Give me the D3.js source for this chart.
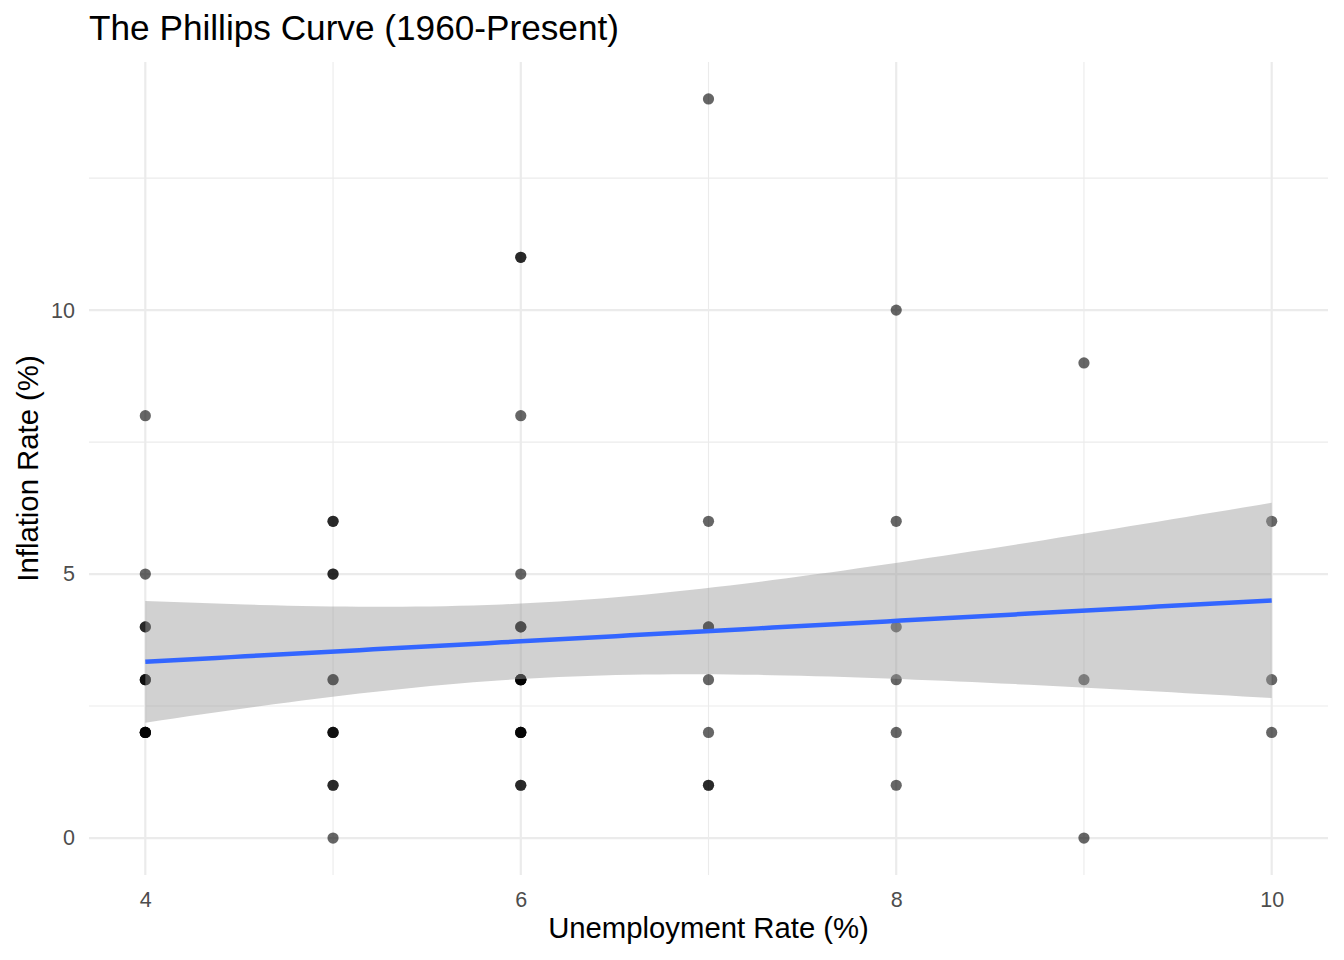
<!DOCTYPE html>
<html lang="en">
<head>
<meta charset="UTF-8">
<title>The Phillips Curve (1960-Present)</title>
<script src="https://d3js.org/d3.v7.min.js"></script>
<style>
  body { margin: 0; background: #fff; }
  svg text { font-family: "Liberation Sans", Arial, sans-serif; }
</style>
</head>
<body>
<svg width="1344" height="960"></svg>
<script>
// rounded annual unemployment / inflation pairs (overlapping points repeat)
const unemployment = [
  4, 4, 4, 4, 4, 4, 4, 4, 4, 4, 4, 4,
  5, 5, 5, 5, 5, 5, 5, 5, 5, 5, 5, 5,
  6, 6, 6, 6, 6, 6, 6, 6, 6, 6, 6, 6, 6, 6, 6, 6, 6, 6,
  7, 7, 7, 7, 7, 7, 7, 7,
  8, 8, 8, 8, 8, 8,
  9, 9, 9,
  10, 10, 10
];
const inflation = [
  8, 5, 4, 4, 3, 3, 3, 2, 2, 2, 2, 2,
  6, 6, 5, 5, 3, 3, 2, 2, 2, 1, 1, 0,
  11, 11, 8, 5, 4, 4, 4, 3, 3, 3, 3, 3, 2, 2, 2, 2, 1, 1,
  14, 6, 4, 4, 3, 2, 1, 1,
  10, 6, 4, 3, 2, 1,
  9, 3, 0,
  6, 3, 2
];
const xTicks = [4, 6, 8, 10];
const yTicks = [0, 5, 10];

const svg = d3.select("svg");
const margin = { top: 62, right: 16, bottom: 85, left: 89 };
const width = 1344, height = 960;

const x = d3.scaleLinear().domain([3.7, 10.3]).range([margin.left, width - margin.right]);
const y = d3.scaleLinear().domain([-0.7, 14.7]).range([height - margin.bottom, margin.top]);

// grid: minor then major
const grid = svg.append("g");
const xMinor = [5, 7, 9], yMinor = [2.5, 7.5, 12.5];
grid.selectAll(".xm").data(xMinor).enter().append("line")
  .attr("x1", d => x(d)).attr("x2", d => x(d))
  .attr("y1", y.range()[0]).attr("y2", y.range()[1])
  .attr("stroke", "#ebebeb").attr("stroke-width", 1.1);
grid.selectAll(".ym").data(yMinor).enter().append("line")
  .attr("y1", d => y(d)).attr("y2", d => y(d))
  .attr("x1", x.range()[0]).attr("x2", x.range()[1])
  .attr("stroke", "#ebebeb").attr("stroke-width", 1.1);
grid.selectAll(".xM").data(xTicks).enter().append("line")
  .attr("x1", d => x(d)).attr("x2", d => x(d))
  .attr("y1", y.range()[0]).attr("y2", y.range()[1])
  .attr("stroke", "#ebebeb").attr("stroke-width", 2.2);
grid.selectAll(".yM").data(yTicks).enter().append("line")
  .attr("y1", d => y(d)).attr("y2", d => y(d))
  .attr("x1", x.range()[0]).attr("x2", x.range()[1])
  .attr("stroke", "#ebebeb").attr("stroke-width", 2.2);

// points
const pts = unemployment.map((u, i) => ({ u, p: inflation[i] }));
svg.append("g").selectAll("circle").data(pts).enter().append("circle")
  .attr("cx", d => x(d.u)).attr("cy", d => y(d.p)).attr("r", 5.6)
  .attr("fill", "#000").attr("fill-opacity", 0.6);

// linear fit with 95% confidence band
const n = pts.length;
const mx = d3.mean(unemployment), my = d3.mean(inflation);
const sxx = d3.sum(unemployment, v => (v - mx) ** 2);
const sxy = d3.sum(pts, d => (d.u - mx) * (d.p - my));
const slope = sxy / sxx, icpt = my - slope * mx;
const sse = d3.sum(pts, d => (d.p - icpt - slope * d.u) ** 2);
const s = Math.sqrt(sse / (n - 2));
const df = n - 2, z = 1.959964;
const tq = z + (z ** 3 + z) / (4 * df) + (5 * z ** 5 + 16 * z ** 3 + 3 * z) / (96 * df * df);

const [xmin, xmax] = d3.extent(unemployment);
const fit = d3.range(80).map(i => {
  const xv = xmin + (xmax - xmin) * i / 79;
  const yv = icpt + slope * xv;
  const se = s * Math.sqrt(1 / n + (xv - mx) ** 2 / sxx);
  return { xv, yv, lo: yv - tq * se, hi: yv + tq * se };
});

svg.append("path").datum(fit)
  .attr("d", d3.area().x(d => x(d.xv)).y0(d => y(d.lo)).y1(d => y(d.hi)))
  .attr("fill", "#999999").attr("fill-opacity", 0.45);
svg.append("path").datum(fit)
  .attr("d", d3.line().x(d => x(d.xv)).y(d => y(d.yv)))
  .attr("fill", "none").attr("stroke", "#3366ff").attr("stroke-width", 4.5);

// axes (labels only, theme_minimal)
const xAxis = svg.append("g")
  .attr("transform", `translate(0,${height - margin.bottom})`)
  .call(d3.axisBottom(x).tickValues(xTicks).tickFormat(d3.format("d")).tickSize(0).tickPadding(17));
const yAxis = svg.append("g")
  .attr("transform", `translate(${margin.left},0)`)
  .call(d3.axisLeft(y).tickValues(yTicks).tickFormat(d3.format("d")).tickSize(0).tickPadding(14));
[xAxis, yAxis].forEach(a => {
  a.select(".domain").remove();
  a.selectAll("text").attr("font-size", 21.5).attr("fill", "#4d4d4d")
    .attr("font-family", "Liberation Sans, Arial, sans-serif");
});

svg.append("text")
  .attr("x", (x.range()[0] + x.range()[1]) / 2).attr("y", 938)
  .attr("text-anchor", "middle").attr("font-size", 29.3).attr("fill", "#000")
  .text("Unemployment Rate (%)");
svg.append("text")
  .attr("transform", `translate(38,${(y.range()[0] + y.range()[1]) / 2}) rotate(-90)`)
  .attr("text-anchor", "middle").attr("font-size", 29.3).attr("fill", "#000")
  .text("Inflation Rate (%)");
svg.append("text")
  .attr("x", 89).attr("y", 40)
  .attr("font-size", 35.2).attr("fill", "#000")
  .text("The Phillips Curve (1960-Present)");
</script>
</body>
</html>
